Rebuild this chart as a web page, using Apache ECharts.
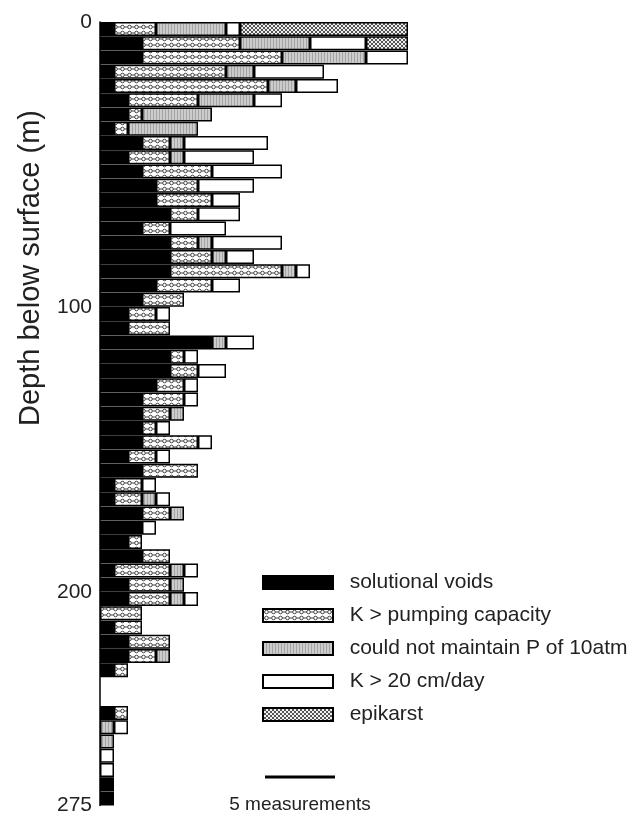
<!DOCTYPE html>
<html><head><meta charset="utf-8">
<script src="https://cdn.jsdelivr.net/npm/echarts@6/dist/echarts.min.js"></script>
<style>html,body{margin:0;padding:0;background:#fff}#c{width:631px;height:816px}</style>
</head><body><div id="c"></div>
<script>
// depth bins of 5 m, 0-275 m
const categories = Array.from({length: 55}, (_, i) => (i * 5) + '-' + (i * 5 + 5));
const depthTickLabels = [0, 100, 200, 275];
const seriesNames = ['solutional voids', 'K > pumping capacity', 'could not maintain P of 10atm', 'K > 20 cm/day', 'epikarst'];

const solutionalVoids = [1,3,3,1,1,2,2,1,3,2, 3,4,4,5,3,5,5,5,4,3, 2,2,8,5,5,4,3,3,3,3, 2,3,1,1,3,3,2,3,1,2, 2,0,1,2,2,1,0,0,1,0, 0,0,0,1,1];
const kPumping        = [3,7,10,8,11,5,1,1,2,3, 5,3,4,2,2,2,3,8,4,3, 2,3,0,1,2,2,3,2,1,4, 2,4,2,2,2,0,1,2,4,3, 3,3,2,3,2,1,0,0,1,0, 0,0,0,0,0];
const notMaintainP    = [5,5,6,2,2,4,5,5,1,1, 0,0,0,0,0,1,1,1,0,0, 0,0,1,0,0,0,0,1,0,0, 0,0,0,1,1,0,0,0,1,1, 1,0,0,0,1,0,0,0,0,1, 1,0,0,0,0];
const kOver20         = [1,4,3,5,3,2,0,0,6,5, 5,4,2,3,4,5,2,1,2,0, 1,0,2,1,2,1,1,0,1,1, 1,0,1,1,0,1,0,0,1,0, 1,0,0,0,0,0,0,0,0,1, 0,1,1,0,0];
const epikarst        = [12,3,0,0,0,0,0,0,0,0, 0,0,0,0,0,0,0,0,0,0, 0,0,0,0,0,0,0,0,0,0, 0,0,0,0,0,0,0,0,0,0, 0,0,0,0,0,0,0,0,0,0, 0,0,0,0,0];

function makePattern(w, h, draw) {
  const c = document.createElement('canvas');
  c.width = w; c.height = h;
  draw(c.getContext('2d'));
  return {image: c, repeat: 'repeat'};
}
const patKp = makePattern(7, 6, g => {
  g.fillStyle = '#fff'; g.fillRect(0, 0, 7, 6);
  g.strokeStyle = '#444'; g.lineWidth = 1;
  g.beginPath(); g.arc(3.5, 3, 1.8, 0, Math.PI * 2); g.stroke();
  g.beginPath(); g.moveTo(5.3, 3); g.lineTo(7, 3); g.moveTo(0, 3); g.lineTo(1.7, 3); g.stroke();
});
const patGray = makePattern(3, 3, g => {
  g.fillStyle = '#cccccc'; g.fillRect(0, 0, 3, 3);
  g.fillStyle = '#a4a4a4'; g.fillRect(0, 0, 1, 3);
});
const patEpi = makePattern(4, 4, g => {
  g.fillStyle = '#f0f0f0'; g.fillRect(0, 0, 4, 4);
  g.strokeStyle = '#555'; g.lineWidth = 1;
  g.beginPath(); g.moveTo(0, 0); g.lineTo(4, 4); g.moveTo(4, 0); g.lineTo(0, 4); g.stroke();
});

const fills = ['#000', patKp, patGray, '#fff', patEpi];
const values = [solutionalVoids, kPumping, notMaintainP, kOver20, epikarst];
const FONT = 'Liberation Sans, Arial, sans-serif';

const chart = echarts.init(document.getElementById('c'), null, {renderer: 'canvas'});
chart.setOption({
  animation: false,
  backgroundColor: '#fff',
  textStyle: {fontFamily: FONT},
  grid: {left: 100, top: 22, width: 336, height: 784},
  xAxis: {type: 'value', min: 0, max: 24, show: false},
  yAxis: [
    {type: 'category', data: categories, inverse: true, show: false},
    {type: 'value', min: 0, max: 275, inverse: true, position: 'left',
     axisLine: {show: true, lineStyle: {color: '#000', width: 1.5}},
     axisTick: {show: false}, splitLine: {show: false},
     axisLabel: {customValues: depthTickLabels, fontSize: 21, color: '#222', margin: 8, fontFamily: FONT}}
  ],
  legend: {
    orient: 'vertical', left: 262, top: 572, padding: 0, itemWidth: 70, itemHeight: 13, itemGap: 12,
    icon: 'rect', selectedMode: false, data: seriesNames,
    formatter: n => '  ' + n,
    textStyle: {fontSize: 21, color: '#222', fontFamily: FONT}
  },
  series: seriesNames.map((name, k) => ({
    name, type: 'bar', stack: 'total', yAxisIndex: 0, barWidth: 14,
    itemStyle: {color: fills[k], borderColor: '#000', borderWidth: 1.5},
    emphasis: {disabled: true},
    data: values[k].map(v => v === 0 ? null : v)
  }))
});

const unit5 = chart.convertToPixel({xAxisIndex: 0}, 5) - chart.convertToPixel({xAxisIndex: 0}, 0);
const sx = 265, sy = 777;
chart.setOption({
  graphic: [
    {type: 'text', x: 31, y: 268, rotation: Math.PI / 2,
     style: {text: 'Depth below surface (m)', fontSize: 29, fill: '#222', align: 'center', verticalAlign: 'middle', fontFamily: FONT}},
    {type: 'line', shape: {x1: sx, y1: sy, x2: sx + unit5, y2: sy}, style: {stroke: '#000', lineWidth: 3}},
    {type: 'text', x: sx + unit5 / 2, y: 805, style: {text: '5 measurements', fontSize: 19, fill: '#222', align: 'center', verticalAlign: 'middle', fontFamily: FONT}}
  ]
});
</script>
</body></html>
